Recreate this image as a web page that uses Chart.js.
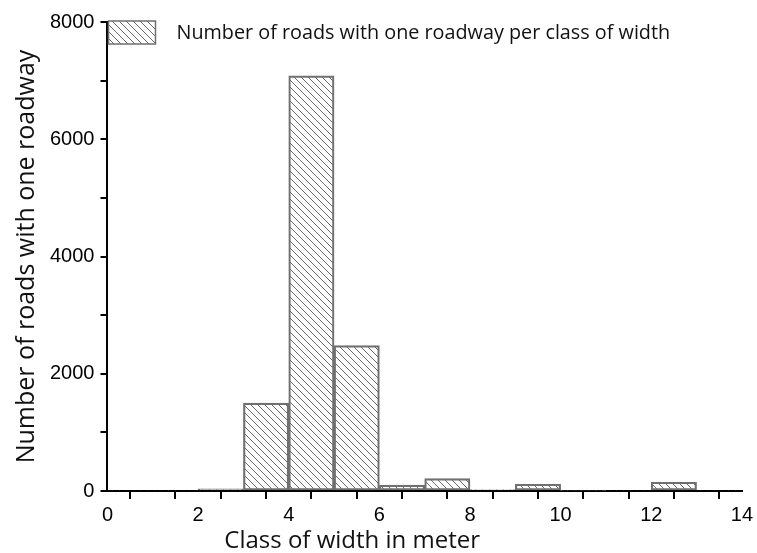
<!DOCTYPE html>
<html>
<head>
<meta charset="utf-8">
<script src="https://cdn.jsdelivr.net/npm/chart.js@4.4.1/dist/chart.umd.min.js"></script>
<style>
  body { margin: 0; background: #fff; }
  #wrap { width: 757px; height: 553px; position: relative; }
</style>
</head>
<body>
<div id="wrap"><canvas id="grafico"></canvas></div>
<script>
const binInicio = [0, 1, 2, 3, 4, 5, 6, 7, 8, 9, 10, 11, 12, 13];
const conteos = [0, 0, 35, 1500, 7080, 2480, 100, 210, 25, 115, 12, 0, 150, 0];
const xTicks = [0, 2, 4, 6, 8, 10, 12, 14];
const yTicks = [0, 2000, 4000, 6000, 8000];
const leyenda = "Number of roads with one roadway per class of width";
const tituloX = "Class of width in meter";
const tituloY = "Number of roads with one roadway";

// patron rayado (\\\)
function hacerRayado() {
    const c = document.createElement("canvas");
    c.width = 7; c.height = 7;
    const g = c.getContext("2d");
    g.strokeStyle = "#6a6a6a";
    g.lineWidth = 1;
    g.beginPath();
    g.moveTo(-1, -1); g.lineTo(8, 8);
    g.moveTo(-8, -1); g.lineTo(1, 8);
    g.moveTo(6, -1); g.lineTo(15, 8);
    g.stroke();
    return document.getElementById("grafico").getContext("2d").createPattern(c, "repeat");
}
const rayado = hacerRayado();
const gris = "#707070";

// leyenda y titulo X dibujados a mano
const extras = {
    id: "extras",
    afterDraw(chart) {
        const ctx = chart.ctx;
        const a = chart.chartArea;
        ctx.save();
        // caja leyenda
        const bx = a.left + 1, by = a.top - 1, bw = 47, bh = 23;
        ctx.fillStyle = rayado;
        ctx.fillRect(bx, by, bw, bh);
        ctx.strokeStyle = gris;
        ctx.lineWidth = 1.5;
        ctx.strokeRect(bx, by, bw, bh);
        ctx.fillStyle = "#111";
        ctx.font = "19.8px 'Open Sans'";
        ctx.textBaseline = "middle";
        ctx.fillText(leyenda, bx + bw + 21, by + bh / 2 + 1);
        // titulo X
        const xs = chart.scales.x;
        ctx.font = "24px 'Open Sans'";
        ctx.textAlign = "center";
        ctx.textBaseline = "alphabetic";
        ctx.fillText(tituloX, xs.getPixelForValue(5.4), 548);
        ctx.restore();
    }
};

const ctx = document.getElementById("grafico").getContext("2d");
new Chart(ctx, {
    type: "bar",
    data: {
        datasets: [{
            label: leyenda,
            data: binInicio.map((b, i) => ({ x: b + 0.5, y: conteos[i] })),
            backgroundColor: rayado,
            borderColor: gris,
            borderWidth: c => (c.raw && c.raw.y > 0 ? 1.5 : 0),
            borderSkipped: false,
            barPercentage: 1,
            categoryPercentage: 1
        }]
    },
    options: {
        responsive: true,
        maintainAspectRatio: false,
        animation: false,
        layout: { padding: { top: 22, right: 6, bottom: 22, left: 12 } },
        plugins: {
            legend: { display: false },
            tooltip: { enabled: false }
        },
        scales: {
            x: {
                type: "linear",
                min: 0, max: 14,
                offset: false,
                z: 1,
                border: { color: "#000", width: 2 },
                grid: { drawOnChartArea: false, color: "#000", lineWidth: 2, tickLength: 8 },
                ticks: {
                    stepSize: 1,
                    autoSkip: false,
                    maxRotation: 0,
                    color: "#000",
                    font: { family: "'Liberation Sans', Arial", size: 20 },
                    padding: 4,
                    callback: v => (xTicks.includes(v) ? v : "")
                }
            },
            y: {
                min: 0, max: 8000,
                z: 1,
                border: { color: "#000", width: 2 },
                grid: { drawOnChartArea: false, color: "#000", lineWidth: 2, tickLength: 7 },
                ticks: {
                    stepSize: 1000,
                    autoSkip: false,
                    color: "#000",
                    font: { family: "'Liberation Sans', Arial", size: 20 },
                    padding: 6,
                    callback: v => (yTicks.includes(v) ? v : "")
                },
                title: {
                    display: true,
                    text: tituloY,
                    color: "#111",
                    font: { family: "'Open Sans'", size: 25 },
                    padding: { top: 0, bottom: 2 }
                }
            }
        }
    },
    plugins: [extras]
});
</script>
</body>
</html>
